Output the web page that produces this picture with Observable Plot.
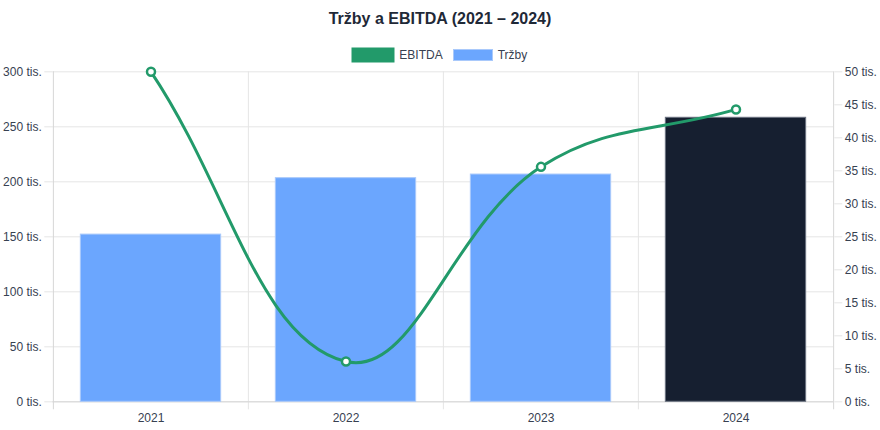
<!DOCTYPE html>
<html>
<head>
<meta charset="utf-8">
<script src="https://cdn.jsdelivr.net/npm/d3@7"></script>
<script src="https://cdn.jsdelivr.net/npm/@observablehq/plot@0.6"></script>
<style>
  html, body { margin: 0; padding: 0; background: #fff; }
  body { width: 880px; height: 430px; position: relative; overflow: hidden;
         font-family: "Liberation Sans", Arial, Helvetica, sans-serif; }
  #title { position: absolute; left: 0; top: 9px; width: 880px; text-align: center;
           font-size: 16px; line-height: 20px; font-weight: bold; color: #1f2937; z-index: 2; }
  #legend { position: absolute; left: 0; top: 48px; width: 880px; display: flex;
            justify-content: center; align-items: center; height: 14px;
            font-size: 12px; line-height: 14px; color: #374151; z-index: 2; }
  .item { display: flex; align-items: center; margin: 0 5px; }
  .sw { width: 40px; height: 12px; margin-right: 5px; box-sizing: border-box; }
  #chart { position: absolute; left: 0; top: 60px; z-index: 1; }
</style>
</head>
<body>
<div id="title"></div>
<div id="legend"></div>
<div id="chart"></div>
<script>
// ---- data ----
const title = "Tržby a EBITDA (2021 – 2024)";
const years = ["2021", "2022", "2023", "2024"];
const trzby = [152000, 203300, 206600, 258200];
const ebitda = [50000, 6100, 35600, 44300];
const leftTicks = [0, 50000, 100000, 150000, 200000, 250000, 300000];
const rightTicks = [0, 5000, 10000, 15000, 20000, 25000, 30000, 35000, 40000, 45000, 50000];
const seriesNames = ["EBITDA", "Tržby"];

// ---- styles ----
const green = "#229a6a";
const blue = "#6ba6fe";
const blueEdge = "#a9c9fb";
const dark = "#161f30";
const gridColor = "#e5e5e5";
const borderColor = "#d6d6d6";
const textColor = "#374151";

const leftMax = 300000, rightMax = 50000, k = leftMax / rightMax;

document.getElementById("title").textContent = title;
const legend = document.getElementById("legend");
[[seriesNames[0], green, "box-shadow:0 0 0 1.5px " + green + ";margin-right:6.5px"], [seriesNames[1], blue, "border:1px solid " + blueEdge]].forEach(([name, c, extra]) => {
  const it = document.createElement("div");
  it.className = "item";
  it.innerHTML = `<div class="sw" style="background:${c};${extra}"></div><span>${name}</span>`;
  legend.appendChild(it);
});

const table = years.map((y, i) => ({year: y, trzby: trzby[i], ebitda: ebitda[i], last: i === years.length - 1}));

// Chart.js-like spline (tension 0.4)
function chartjsCurve(context) {
  const T = 0.4;
  let pts = [];
  return {
    areaStart() {}, areaEnd() {},
    lineStart() { pts = []; },
    point(x, y) { pts.push([+x, +y]); },
    lineEnd() {
      const n = pts.length;
      if (!n) return;
      context.moveTo(pts[0][0], pts[0][1]);
      const cps = pts.map((p, i) => {
        const prev = pts[Math.max(i - 1, 0)], next = pts[Math.min(i + 1, n - 1)];
        const d01 = Math.hypot(p[0] - prev[0], p[1] - prev[1]);
        const d12 = Math.hypot(next[0] - p[0], next[1] - p[1]);
        let s01 = d01 / (d01 + d12), s12 = d12 / (d01 + d12);
        if (isNaN(s01)) s01 = 0;
        if (isNaN(s12)) s12 = 0;
        const fa = T * s01, fb = T * s12;
        return {
          prev: [p[0] - fa * (next[0] - prev[0]), p[1] - fa * (next[1] - prev[1])],
          next: [p[0] + fb * (next[0] - prev[0]), p[1] + fb * (next[1] - prev[1])]
        };
      });
      for (let i = 1; i < n; i++) {
        context.bezierCurveTo(cps[i - 1].next[0], cps[i - 1].next[1], cps[i].prev[0], cps[i].prev[1], pts[i][0], pts[i][1]);
      }
    }
  };
}

const W = 880, H = 370, mL = 52.3, mR = 46.7, mT = 11.3, mB = 28.7;
const step = (W - mL - mR) / years.length;
const barInset = step * (1 - 0.72) / 2;
const fmt = v => `${Math.round(v / 1000)} tis.`;

const chart = Plot.plot({
  width: W, height: H,
  marginLeft: mL, marginRight: mR, marginTop: mT, marginBottom: mB,
  style: {fontFamily: "'Liberation Sans', Arial, Helvetica, sans-serif", fontSize: "12px", color: textColor, background: "transparent", overflow: "visible"},
  x: {type: "band", domain: years, padding: 0},
  y: {domain: [0, leftMax]},
  marks: [
    Plot.gridY(leftTicks, {stroke: gridColor, strokeOpacity: 1}),
    Plot.ruleX(years.slice(1), {x: d => d, dx: -step / 2, stroke: gridColor, insetBottom: -8}),
    Plot.ruleX([years[0]], {x: d => d, dx: -step / 2, stroke: borderColor, insetBottom: -8}),
    Plot.ruleX([years[years.length - 1]], {x: d => d, dx: step / 2, stroke: borderColor, insetBottom: -8}),
    Plot.ruleY([0], {stroke: borderColor}),
    Plot.axisY(leftTicks, {anchor: "left", tickSize: 8, stroke: gridColor, fill: textColor, tickFormat: fmt, label: null}),
    Plot.axisY(rightTicks.map(v => v * k), {anchor: "right", tickSize: 8, stroke: gridColor, fill: textColor, tickFormat: v => fmt(v / k), label: null}),
    Plot.axisX({tickSize: 0, tickPadding: 12, fill: textColor, label: null}),
    Plot.barY(table, {x: "year", y: "trzby", fill: d => d.last ? dark : blue, stroke: d => d.last ? "#6b7280" : blueEdge, strokeWidth: 1, insetLeft: barInset, insetRight: barInset}),
    Plot.line(table, {x: "year", y: d => d.ebitda * k, stroke: green, strokeWidth: 3, curve: chartjsCurve}),
    Plot.dot(table, {x: "year", y: d => d.ebitda * k, r: 4, fill: "#fff", stroke: green, strokeWidth: 2.5})
  ]
});
document.getElementById("chart").appendChild(chart);
</script>
</body>
</html>
